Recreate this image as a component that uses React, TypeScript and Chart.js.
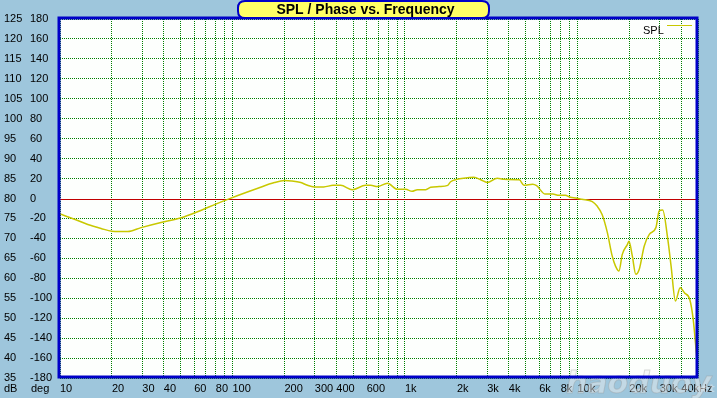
import React, { useEffect, useRef } from "react";
import { Chart, registerables } from "chart.js";

Chart.register(...registerables);

// Frequency (Hz) and SPL (dB)
const freqHz = [
  10, 11.8, 14.5, 17.3, 20, 24.7, 29.5, 38.5, 50, 65.5, 80, 98, 139, 175, 200, 220, 249, 272, 298, 338, 383, 424,
  496, 591, 633, 693, 792, 905, 1011, 1100, 1180, 1320, 1410, 1580, 1770, 1840, 2000, 2190, 2510, 2750, 3000, 3430,
  3750, 4600, 4900, 5500, 5800, 6500, 7200, 7800, 8500, 9100, 9800, 10600, 12200, 13000, 13900, 14900, 15900, 16600,
  17400, 18200, 19500, 19900, 20800, 21800, 22800, 24400, 26100, 28500, 29800, 31200, 33400, 34900, 37000, 39400,
  41800, 44800, 46900, 49100,
];
const splDb = [
  76.1, 75, 73.5, 72.5, 71.8, 71.7, 72.7, 74, 75.1, 77, 78.6, 80.1, 82.5, 84, 84.5, 84.4, 84, 83.3, 82.9, 82.9, 83.3,
  83.3, 82.2, 83.3, 83.3, 83, 83.8, 82.3, 82.3, 81.8, 82.2, 82.2, 82.8, 83, 83.3, 84.2, 84.8, 85.1, 85.3, 84.7, 84,
  85.1, 84.8, 84.7, 83.3, 83.6, 83.2, 81.1, 81.1, 80.8, 80.8, 80.3, 80.1, 79.8, 79.2, 78.1, 76, 71.5, 65.6, 63.1,
  61.8, 66, 68.5, 69.3, 65.6, 61, 62.2, 68.1, 71, 72.7, 76.9, 77.1, 69.8, 63.1, 54.3, 57.6, 56.3, 54.7, 49.7, 40.5,
];

// Vertical grid positions (Hz)
const gridFreqs = [
  10, 20, 30, 40, 50, 60, 70, 80, 90, 100, 200, 300, 400, 500, 600, 700, 800, 900, 1000, 2000, 3000, 4000, 5000, 6000,
  7000, 8000, 9000, 10000, 20000, 30000, 40000, 50000,
];
// Labelled frequencies and their texts
const freqLabelValues = [10, 20, 30, 40, 60, 80, 100, 200, 300, 400, 600, 1000, 2000, 3000, 4000, 6000, 8000, 10000, 20000, 30000, 40000];
const freqLabelTexts = ["10", "20", "30", "40", "60", "80", "100", "200", "300", "400", "600", "1k", "2k", "3k", "4k", "6k", "8k", "10k", "20k", "30k", "40kHz"];

const degMin = -180;
const degMax = 180;
const degStep = 20;
const dbMin = 35;
const dbMax = 125;
const dbStep = 5;

const titleText = "SPL / Phase vs. Frequency";
const seriesName = "SPL";
const dbUnit = "dB";
const degUnit = "deg";
const watermark = "haoduoy";
const watermarkSuffix = ".net";

const BG = "#9ec6dc";
const FRAME = "#0000c8";
const CURVE = "#c8c800";
const GRID = "#008000";
const ZERO = "#c00000";
const FONT = "'Liberation Sans', Arial, sans-serif";

const App = () => {
  const ref = useRef<HTMLCanvasElement | null>(null);

  useEffect(() => {
    document.body.style.margin = "0";
    document.body.style.background = BG;
    const canvas = ref.current;
    if (!canvas) return;

    const labelMap = new Map<number, string>();
    freqLabelValues.forEach((v, i) => labelMap.set(v, freqLabelTexts[i]));

    const decoPlugin = {
      id: "deco",
      beforeDraw(chart: any) {
        const { ctx, chartArea: ca } = chart;
        ctx.save();
        ctx.fillStyle = BG;
        ctx.fillRect(0, 0, chart.width, chart.height);
        ctx.fillStyle = "#fdfffd";
        ctx.fillRect(ca.left, ca.top, ca.right - ca.left, ca.bottom - ca.top);
        ctx.restore();
      },
      beforeDatasetsDraw(chart: any) {
        const { ctx, chartArea: ca } = chart;
        const y = Math.round(chart.scales.deg.getPixelForValue(0)) + 0.5;
        ctx.save();
        ctx.strokeStyle = ZERO;
        ctx.lineWidth = 1;
        ctx.beginPath();
        ctx.moveTo(ca.left, y);
        ctx.lineTo(ca.right, y);
        ctx.stroke();
        // watermark (faint)
        ctx.font = "italic bold 30px 'DejaVu Sans', sans-serif";
        ctx.textBaseline = "alphabetic";
        ctx.textAlign = "left";
        ctx.fillStyle = "rgba(240,240,240,0.45)";
        ctx.strokeStyle = "rgba(150,150,150,0.35)";
        ctx.lineWidth = 1;
        ctx.fillText(watermark, 566, 393);
        ctx.strokeText(watermark, 566, 393);
        ctx.font = "bold 11px 'DejaVu Sans', sans-serif";
        ctx.fillText(watermarkSuffix, 690, 392);
        ctx.restore();
      },
      afterDatasetsDraw(chart: any) {
        const { ctx, chartArea: ca } = chart;
        ctx.save();
        // frame
        ctx.strokeStyle = FRAME;
        ctx.lineWidth = 3;
        ctx.strokeRect(ca.left - 1, ca.top - 1, ca.right - ca.left, ca.bottom - ca.top);

        // legend
        ctx.fillStyle = "#000";
        ctx.font = `11px ${FONT}`;
        ctx.textBaseline = "middle";
        ctx.textAlign = "left";
        ctx.fillText(seriesName, 643, 31);
        ctx.strokeStyle = CURVE;
        ctx.lineWidth = 1;
        ctx.beginPath();
        ctx.moveTo(667, 25.5);
        ctx.lineTo(692, 25.5);
        ctx.stroke();

        // unit labels under the value columns
        ctx.fillStyle = "#000";
        ctx.fillText(dbUnit, 4, 389);
        ctx.fillText(degUnit, 31, 389);

        // title box
        const bx = 238, by = 1, bw = 251, bh = 17, r = 7;
        ctx.beginPath();
        ctx.moveTo(bx + r, by);
        ctx.lineTo(bx + bw - r, by);
        ctx.quadraticCurveTo(bx + bw, by, bx + bw, by + r);
        ctx.lineTo(bx + bw, by + bh - r);
        ctx.quadraticCurveTo(bx + bw, by + bh, bx + bw - r, by + bh);
        ctx.lineTo(bx + r, by + bh);
        ctx.quadraticCurveTo(bx, by + bh, bx, by + bh - r);
        ctx.lineTo(bx, by + r);
        ctx.quadraticCurveTo(bx, by, bx + r, by);
        ctx.closePath();
        ctx.fillStyle = "#ffff66";
        ctx.fill();
        ctx.strokeStyle = FRAME;
        ctx.lineWidth = 2;
        ctx.stroke();
        ctx.fillStyle = "#000";
        ctx.font = `bold 14px ${FONT}`;
        ctx.textAlign = "center";
        ctx.textBaseline = "middle";
        ctx.fillText(titleText, bx + bw / 2 + 2, by + bh / 2 + 1);
        ctx.restore();
      },
    };

    const tickFont = { family: FONT, size: 11 };

    const chart = new Chart(canvas, {
      type: "line",
      data: {
        datasets: [
          {
            label: seriesName,
            data: freqHz.map((f, i) => ({ x: f, y: splDb[i] })),
            borderColor: CURVE,
            borderWidth: 1.5,
            pointRadius: 0,
            cubicInterpolationMode: "monotone",
            fill: false,
            xAxisID: "x",
            yAxisID: "db",
          },
        ],
      },
      options: {
        animation: false,
        responsive: false,
        devicePixelRatio: 1,
        layout: { padding: { left: 4, top: 19, right: 19, bottom: 0 } },
        plugins: {
          legend: { display: false },
          title: { display: false },
          tooltip: { enabled: false },
        },
        scales: {
          x: {
            type: "logarithmic",
            position: "bottom",
            min: 10,
            max: 50000,
            afterBuildTicks: (s: any) => {
              s.ticks = gridFreqs.map((v) => ({ value: v }));
            },
            afterFit: (s: any) => {
              s.height = 20;
              s.paddingLeft = 0;
              s.paddingRight = 0;
            },
            ticks: {
              autoSkip: false,
              maxRotation: 0,
              minRotation: 0,
              align: "start",
              padding: 4,
              color: "#000",
              font: tickFont,
              callback: (v: any) => labelMap.get(Number(v)) ?? "",
            },
            grid: { color: GRID, lineWidth: 1, drawTicks: false },
            border: { display: false, dash: [1, 1] },
          },
          deg: {
            type: "linear",
            position: "left",
            weight: 1,
            min: degMin,
            max: degMax,
            afterBuildTicks: (s: any) => {
              const t = [];
              for (let v = degMin; v <= degMax; v += degStep) t.push({ value: v });
              s.ticks = t;
            },
            afterFit: (s: any) => {
              s.width = 30;
              s.paddingTop = 0;
              s.paddingBottom = 0;
            },
            ticks: {
              crossAlign: "far",
              color: "#000",
              font: tickFont,
              callback: (v: any) => String(v),
            },
            grid: {
              color: (c: any) => (c.tick && c.tick.value === 0 ? "rgba(0,0,0,0)" : GRID),
              lineWidth: 1,
              drawTicks: false,
            },
            border: { display: false, dash: [1, 1] },
          },
          db: {
            type: "linear",
            position: "left",
            weight: 2,
            min: dbMin,
            max: dbMax,
            afterBuildTicks: (s: any) => {
              const t = [];
              for (let v = dbMin; v <= dbMax; v += dbStep) t.push({ value: v });
              s.ticks = t;
            },
            afterFit: (s: any) => {
              s.width = 26;
              s.paddingTop = 0;
              s.paddingBottom = 0;
            },
            ticks: {
              crossAlign: "far",
              color: "#000",
              font: tickFont,
              callback: (v: any) => String(v),
            },
            grid: { display: false, drawTicks: false },
            border: { display: false },
          },
        },
      } as any,
      plugins: [decoPlugin],
    });

    return () => chart.destroy();
  }, []);

  return (
    <div style={{ position: "relative", width: 717, height: 398, background: BG }}>
      <canvas ref={ref} width={717} height={398} style={{ display: "block", width: 717, height: 398 }} />
    </div>
  );
};

export default App;
